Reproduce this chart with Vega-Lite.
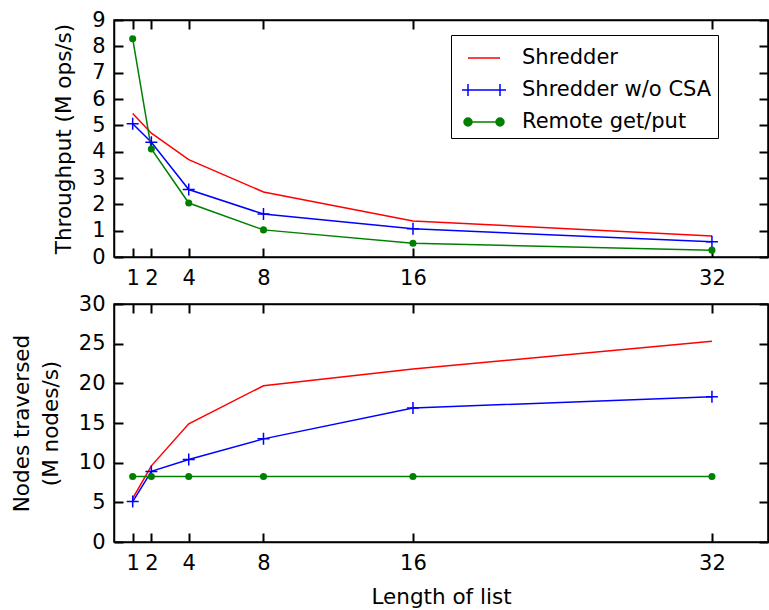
{
  "$schema": "https://vega.github.io/schema/vega-lite/v6.json",
  "autosize": {"type": "pad"},
  "padding": {"left": 10, "top": 8, "right": 0, "bottom": 0},
  "background": "white",
  "config": {
    "font": "DejaVu Sans",
    "view": {"stroke": "black", "strokeWidth": 1.5},
    "axis": {
      "domain": false,
      "domainColor": "black",
      "domainWidth": 1.5,
      "grid": false,
      "ticks": false,
      "tickSize": 9,
      "tickColor": "#000000",
      "tickOpacity": 1,
      "tickWidth": 2,
      "zindex": 1,
      "labels": false,
      "title": null,
      "labelFont": "DejaVu Sans",
      "labelFontSize": 21,
      "labelColor": "black",
      "titleFont": "DejaVu Sans",
      "titleFontSize": 21.5,
      "titleFontWeight": "normal",
      "titleColor": "black"
    },
    "axisX": {"labelPadding": 10},
    "axisY": {"labelPadding": 9},
    "legend": {
      "orient": "none", "legendX": 337, "legendY": 15, "strokeColor": "black", "fillColor": "white",
      "padding": 6, "symbolOffset": 10, "symbolSize": 1024, "symbolStrokeWidth": 1.5, "symbolOpacity": 1,
      "labelFontSize": 21, "labelFont": "DejaVu Sans", "labelColor": "black", "labelOffset": 21, "rowPadding": 5, "labelLimit": 300, "zindex": 2
    }
  },
  "data": {
    "values": [
      {"n": 1, "series": "Shredder", "tp": 5.45, "nodes": 5.5},
      {"n": 2, "series": "Shredder", "tp": 4.7, "nodes": 9.6},
      {"n": 4, "series": "Shredder", "tp": 3.7, "nodes": 14.9},
      {"n": 8, "series": "Shredder", "tp": 2.47, "nodes": 19.7},
      {"n": 16, "series": "Shredder", "tp": 1.37, "nodes": 21.8},
      {"n": 32, "series": "Shredder", "tp": 0.8, "nodes": 25.3},
      {"n": 1, "series": "Shredder w/o CSA", "tp": 5.06, "nodes": 5.1},
      {"n": 2, "series": "Shredder w/o CSA", "tp": 4.36, "nodes": 8.9},
      {"n": 4, "series": "Shredder w/o CSA", "tp": 2.56, "nodes": 10.4},
      {"n": 8, "series": "Shredder w/o CSA", "tp": 1.63, "nodes": 13.0},
      {"n": 16, "series": "Shredder w/o CSA", "tp": 1.07, "nodes": 16.9},
      {"n": 32, "series": "Shredder w/o CSA", "tp": 0.58, "nodes": 18.3},
      {"n": 1, "series": "Remote get/put", "tp": 8.29, "nodes": 8.26},
      {"n": 2, "series": "Remote get/put", "tp": 4.1, "nodes": 8.26},
      {"n": 4, "series": "Remote get/put", "tp": 2.05, "nodes": 8.26},
      {"n": 8, "series": "Remote get/put", "tp": 1.03, "nodes": 8.26},
      {"n": 16, "series": "Remote get/put", "tp": 0.52, "nodes": 8.26},
      {"n": 32, "series": "Remote get/put", "tp": 0.26, "nodes": 8.26}
    ]
  },
  "spacing": 3,
  "vconcat": [
    {
      "width": 654,
      "height": 237,
      "resolve": {"axis": {"x": "independent", "y": "independent"}},
      "layer": [
        {
          "mark": {"type": "line", "strokeWidth": 1.5},
          "encoding": {
            "x": {"field": "n", "type": "quantitative", "scale": {"domain": [0, 35], "nice": false},
                  "axis": {"orient": "bottom", "values": [1, 2, 4, 8, 16, 32], "labels": true, "domain": true}},
            "y": {"field": "tp", "type": "quantitative", "scale": {"domain": [0, 9], "nice": false, "zero": true},
                  "axis": {"orient": "left", "values": [0, 1, 2, 3, 4, 5, 6, 7, 8, 9], "labels": true, "domain": true, "title": "Throughput (M ops/s)", "titlePadding": 16}},
            "color": {"field": "series", "type": "nominal",
                      "scale": {"domain": ["Remote get/put", "Shredder", "Shredder w/o CSA"], "range": ["#008000", "#ff0000", "#0000ff"]},
                      "legend": null}
          }
        },
        {
          "transform": [{"filter": "datum.series === 'Shredder w/o CSA'"}],
          "mark": {"type": "point", "shape": "M-1,0H1M0,-1V1", "filled": false, "size": 144, "strokeWidth": 1.5, "color": "#0000ff", "opacity": 1},
          "encoding": {
            "x": {"field": "n", "type": "quantitative", "axis": null},
            "y": {"field": "tp", "type": "quantitative", "axis": null}
          }
        },
        {
          "transform": [{"filter": "datum.series === 'Remote get/put'"}],
          "mark": {"type": "circle", "size": 50, "color": "#008000", "opacity": 1},
          "encoding": {
            "x": {"field": "n", "type": "quantitative", "axis": null},
            "y": {"field": "tp", "type": "quantitative", "axis": null}
          }
        },
        {
          "mark": {"type": "point", "filled": true, "opacity": 0, "strokeWidth": 1.5},
          "encoding": {
            "x": {"field": "n", "type": "quantitative", "axis": null},
            "y": {"field": "tp", "type": "quantitative", "axis": null},
            "shape": {"field": "series", "type": "nominal",
                      "scale": {"domain": ["Shredder", "Shredder w/o CSA", "Remote get/put"],
                                "range": ["M-1,0H1", "M-1.375,0H1.375M-1,-0.375V0.375M1,-0.375V0.375", "M-1,0H1M-1.25,0a0.25,0.25 0 1,0 0.5,0a0.25,0.25 0 1,0 -0.5,0M0.75,0a0.25,0.25 0 1,0 0.5,0a0.25,0.25 0 1,0 -0.5,0"]},
                      "legend": {"title": null, "encode": {"symbols": {"update": {"opacity": {"value": 1}}}}}},
            "fill": {"field": "series", "type": "nominal",
                     "scale": {"domain": ["Shredder", "Shredder w/o CSA", "Remote get/put"], "range": ["#ff0000", "#0000ff", "#008000"]},
                     "legend": {"title": null, "encode": {"symbols": {"update": {"opacity": {"value": 1}}}}}},
            "stroke": {"field": "series", "type": "nominal",
                       "scale": {"domain": ["Shredder", "Shredder w/o CSA", "Remote get/put"], "range": ["#ff0000", "#0000ff", "#008000"]},
                       "legend": {"title": null, "encode": {"symbols": {"update": {"opacity": {"value": 1}}}}}}
          }
        },
        {
          "mark": {"type": "point", "opacity": 0},
          "encoding": {
            "x": {"field": "n", "type": "quantitative", "axis": {"orient": "top", "domain": true}},
            "y": {"field": "tp", "type": "quantitative", "axis": {"orient": "right", "domain": true}}
          }
        },
        {
          "mark": {"type": "point", "opacity": 0},
          "encoding": {
            "x": {"field": "n", "type": "quantitative", "axis": {"orient": "top", "offset": -237, "ticks": true, "values": [1, 2, 4, 8, 16, 32]}},
            "y": {"field": "tp", "type": "quantitative", "axis": {"orient": "right", "offset": -654, "ticks": true, "values": [0, 1, 2, 3, 4, 5, 6, 7, 8, 9]}}
          }
        },
        {
          "mark": {"type": "point", "opacity": 0},
          "encoding": {
            "x": {"field": "n", "type": "quantitative", "axis": {"orient": "bottom", "offset": -237, "ticks": true, "values": [1, 2, 4, 8, 16, 32]}},
            "y": {"field": "tp", "type": "quantitative", "axis": {"orient": "left", "offset": -654, "ticks": true, "values": [0, 1, 2, 3, 4, 5, 6, 7, 8, 9]}}
          }
        }
      ]
    },
    {
      "width": 654,
      "height": 238,
      "resolve": {"axis": {"x": "independent", "y": "independent"}},
      "layer": [
        {
          "mark": {"type": "line", "strokeWidth": 1.5},
          "encoding": {
            "x": {"field": "n", "type": "quantitative", "scale": {"domain": [0, 35], "nice": false},
                  "axis": {"orient": "bottom", "values": [1, 2, 4, 8, 16, 32], "labels": true, "domain": true, "title": "Length of list", "titlePadding": 13}},
            "y": {"field": "nodes", "type": "quantitative", "scale": {"domain": [0, 30], "nice": false},
                  "axis": {"orient": "left", "values": [0, 5, 10, 15, 20, 25, 30], "labels": true, "domain": true, "title": ["Nodes traversed", "(M nodes/s)"], "titleLineHeight": 29, "titlePadding": 16}},
            "color": {"field": "series", "type": "nominal",
                      "scale": {"domain": ["Remote get/put", "Shredder", "Shredder w/o CSA"], "range": ["#008000", "#ff0000", "#0000ff"]},
                      "legend": null}
          }
        },
        {
          "transform": [{"filter": "datum.series === 'Shredder w/o CSA'"}],
          "mark": {"type": "point", "shape": "M-1,0H1M0,-1V1", "filled": false, "size": 144, "strokeWidth": 1.5, "color": "#0000ff", "opacity": 1},
          "encoding": {
            "x": {"field": "n", "type": "quantitative", "axis": null},
            "y": {"field": "nodes", "type": "quantitative", "axis": null}
          }
        },
        {
          "transform": [{"filter": "datum.series === 'Remote get/put'"}],
          "mark": {"type": "circle", "size": 50, "color": "#008000", "opacity": 1},
          "encoding": {
            "x": {"field": "n", "type": "quantitative", "axis": null},
            "y": {"field": "nodes", "type": "quantitative", "axis": null}
          }
        },
        {
          "mark": {"type": "point", "opacity": 0},
          "encoding": {
            "x": {"field": "n", "type": "quantitative", "axis": {"orient": "top", "domain": true}},
            "y": {"field": "nodes", "type": "quantitative", "axis": {"orient": "right", "domain": true}}
          }
        },
        {
          "mark": {"type": "point", "opacity": 0},
          "encoding": {
            "x": {"field": "n", "type": "quantitative", "axis": {"orient": "top", "offset": -238, "ticks": true, "values": [1, 2, 4, 8, 16, 32]}},
            "y": {"field": "nodes", "type": "quantitative", "axis": {"orient": "right", "offset": -654, "ticks": true, "values": [0, 5, 10, 15, 20, 25, 30]}}
          }
        },
        {
          "mark": {"type": "point", "opacity": 0},
          "encoding": {
            "x": {"field": "n", "type": "quantitative", "axis": {"orient": "bottom", "offset": -238, "ticks": true, "values": [1, 2, 4, 8, 16, 32]}},
            "y": {"field": "nodes", "type": "quantitative", "axis": {"orient": "left", "offset": -654, "ticks": true, "values": [0, 5, 10, 15, 20, 25, 30]}}
          }
        }
      ]
    }
  ]
}
